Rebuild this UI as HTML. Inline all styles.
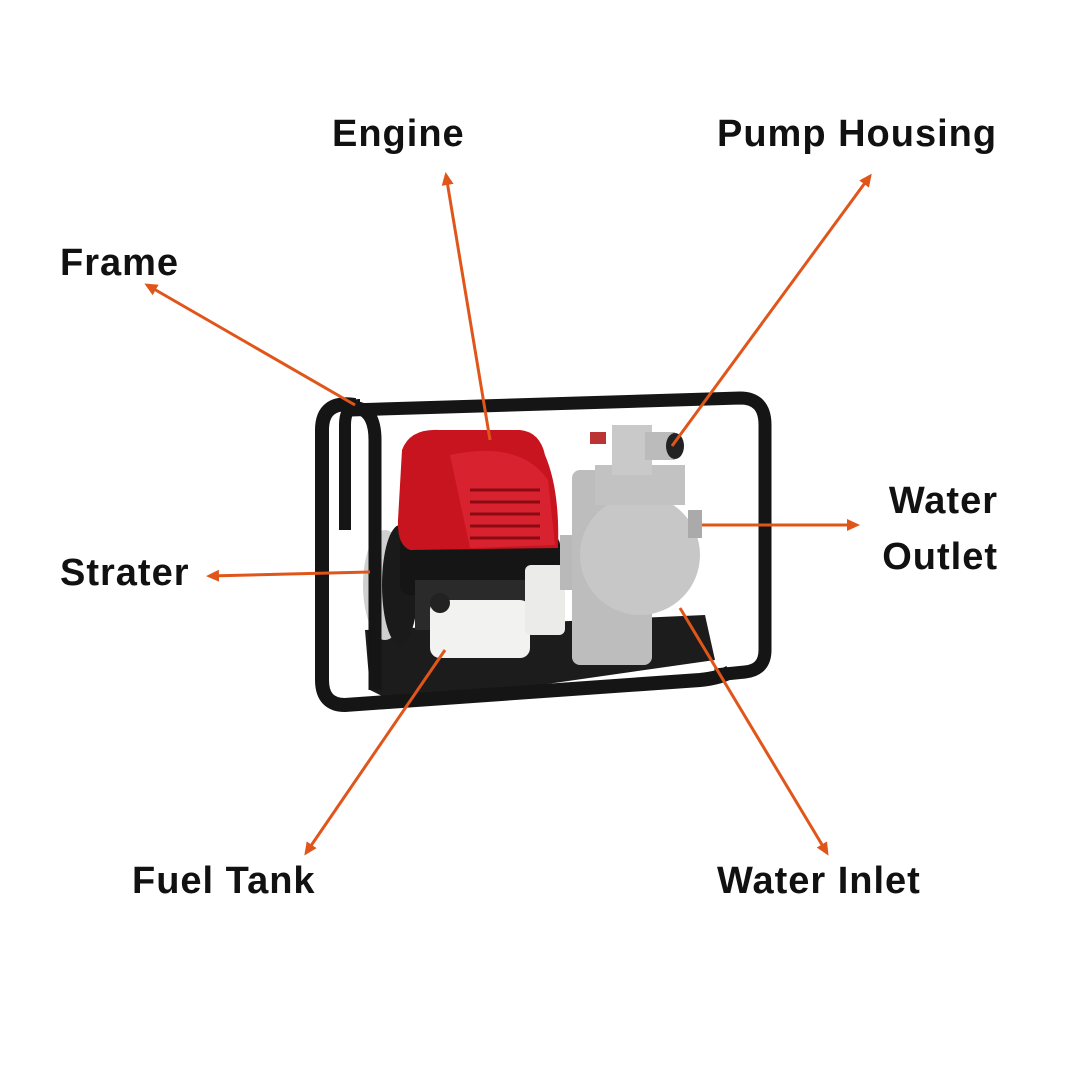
<!DOCTYPE html>
<html><head><style>
body{margin:0;width:1080px;height:1080px;background:#fff;overflow:hidden;position:relative;font-family:"Liberation Sans",sans-serif}
.l{position:absolute;font-weight:bold;font-size:38px;letter-spacing:1px;color:#111;line-height:1;white-space:nowrap}
svg{position:absolute;left:0;top:0}
</style></head><body>
<svg width="1080" height="1080" viewBox="0 0 1080 1080">
<defs><marker id="a" markerWidth="14" markerHeight="14" refX="10" refY="7" orient="auto" markerUnits="userSpaceOnUse"><path d="M0,1 L13,7 L0,13 Z" fill="#e0561a"/></marker></defs>
<polygon points="365,630 705,615 715,660 400,705 370,690" fill="#1c1c1c"/>
<path d="M350,410 L740,398 Q765,398 765,425 L765,650 Q765,670 745,672 L715,675" fill="none" stroke="#151515" stroke-width="13"/>
<path d="M360,405 Q345,405 345,425 L345,530" fill="none" stroke="#151515" stroke-width="12"/>
<ellipse cx="385" cy="585" rx="22" ry="55" fill="#cfcfcf"/>
<ellipse cx="400" cy="585" rx="18" ry="60" fill="#1a1a1a"/>
<rect x="400" y="535" width="160" height="60" rx="10" fill="#151515"/>
<rect x="415" y="580" width="130" height="50" fill="#2a2a2a"/>
<path d="M402,450 Q410,428 440,430 L520,430 Q540,432 545,455 Q560,490 558,548 L410,550 Q397,545 398,520 Z" fill="#c8141e"/>
<path d="M450,455 Q520,440 548,480 L555,545 L470,548 Z" fill="#d92230"/>
<g stroke="#8c0a12" stroke-width="3"><line x1="470" y1="490" x2="540" y2="490"/><line x1="470" y1="502" x2="540" y2="502"/><line x1="470" y1="514" x2="540" y2="514"/><line x1="470" y1="526" x2="540" y2="526"/><line x1="470" y1="538" x2="540" y2="538"/></g>
<rect x="430" y="600" width="100" height="58" rx="10" fill="#f2f2f0"/>
<rect x="525" y="565" width="40" height="70" rx="6" fill="#ebebea"/>
<circle cx="440" cy="603" r="10" fill="#222"/>
<rect x="560" y="535" width="40" height="55" fill="#b9b9b9"/>
<rect x="572" y="470" width="80" height="195" rx="8" fill="#bdbdbd"/>
<circle cx="640" cy="555" r="60" fill="#c7c7c7"/>
<rect x="595" y="465" width="90" height="40" fill="#c2c2c2"/>
<rect x="612" y="425" width="40" height="50" fill="#c9c9c9"/>
<rect x="645" y="432" width="30" height="28" fill="#bbb"/>
<ellipse cx="675" cy="446" rx="9" ry="13" fill="#222"/>
<rect x="688" y="510" width="14" height="28" fill="#aaa"/>
<rect x="590" y="432" width="16" height="12" fill="#b33"/>
<path d="M355,405 Q322,400 322,430 L322,680 Q322,705 345,705 L700,680 Q720,678 730,672" fill="none" stroke="#151515" stroke-width="14"/>
<path d="M358,408 Q375,412 375,440 L375,690" fill="none" stroke="#151515" stroke-width="13"/>
<g stroke="#e0561a" stroke-width="3" marker-end="url(#a)" fill="none">
<line x1="490" y1="440" x2="446" y2="175"/>
<line x1="672" y1="446" x2="870" y2="176"/>
<line x1="355" y1="405" x2="147" y2="285"/>
<line x1="370" y1="572" x2="209" y2="576"/>
<line x1="702" y1="525" x2="857" y2="525"/>
<line x1="445" y1="650" x2="306" y2="853"/>
<line x1="680" y1="608" x2="827" y2="853"/>
</g>
</svg>
<div class="l" style="left:332px;top:115px">Engine</div>
<div class="l" style="left:717px;top:115px">Pump Housing</div>
<div class="l" style="left:60px;top:244px">Frame</div>
<div class="l" style="left:60px;top:554px">Strater</div>
<div class="l" style="right:82px;top:482px">Water</div>
<div class="l" style="right:82px;top:538px">Outlet</div>
<div class="l" style="left:132px;top:862px">Fuel Tank</div>
<div class="l" style="left:717px;top:862px">Water Inlet</div>
</body></html>
